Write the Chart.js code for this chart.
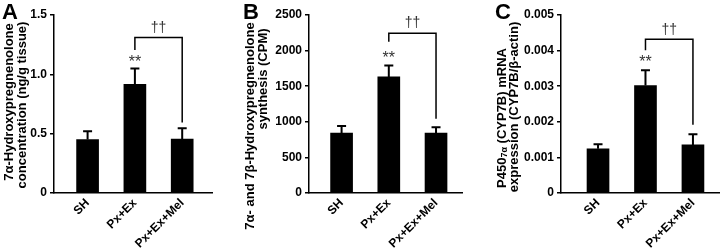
<!DOCTYPE html>
<html>
<head>
<meta charset="utf-8">
<script src="https://cdn.jsdelivr.net/npm/chart.js@4"></script>
<style>
  body { margin: 0; background: #fff; }
  #wrap { position: relative; width: 720px; height: 252px; overflow: hidden; }
  canvas { position: absolute; top: 0; }
  .letter { position: absolute; top: 0; font: bold 22px "Liberation Sans", Arial, sans-serif; line-height: 24px; }
</style>
</head>
<body>
<div id="wrap">
  <canvas id="chartA" width="240" height="252" style="left:0"></canvas>
  <canvas id="chartB" width="240" height="252" style="left:240px"></canvas>
  <canvas id="chartC" width="240" height="252" style="left:480px"></canvas>
  <div class="letter" style="left:2px">A</div>
  <div class="letter" style="left:243px">B</div>
  <div class="letter" style="left:495px">C</div>
</div>
<script>
// groups on the x axis
const groups = ['SH', 'Px+Ex', 'Px+Ex+Mel'];

// A: 7a-hydroxypregnenolone concentration
const meansA = [0.45, 0.915, 0.455];
const semA = [0.07, 0.135, 0.09];
// B: 7a- and 7b-hydroxypregnenolone synthesis
const meansB = [840, 1630, 840];
const semB = [100, 160, 82];
// C: P450 7a mRNA expression
const meansC = [0.00124, 0.00302, 0.00135];
const semC = [0.00013, 0.00043, 0.0003];

// significance marks: [bracket top, left leg end, right leg end, ** y, dagger y]
const sigA = [1.31, 1.205, 0.595, 1.12, 1.39];
const sigB = [2242, 2124, 1043, 1936, 2383];
const sigC = [0.00432, 0.00401, 0.00192, 0.00375, 0.00458];

// y axis titles, each line is a list of [text, subscript?] runs
const titleA = [[['7\u03b1-Hydroxypregnenolone']], [['concentration (ng/g tissue)']]];
const titleB = [[['7\u03b1- and 7\u03b2-Hydroxypregnenolone']], [['synthesis (CPM)']]];
const titleC = [[['P450'], ['7\u03b1', true], [' (CYP7B) mRNA']], [['expression (CYP7B/\u03b2-actin)']]];

const FAMILY = '"Liberation Sans", Arial, sans-serif';
Chart.defaults.font.family = FAMILY;
Chart.defaults.font.weight = 'bold';
Chart.defaults.font.size = 12;
Chart.defaults.color = '#000';

const errorBars = {
    id: 'errorBars',
    afterDatasetsDraw(chart, args, opts) {
        const ctx = chart.ctx;
        const x = chart.scales.x, y = chart.scales.y;
        ctx.save();
        ctx.strokeStyle = '#000';
        ctx.lineWidth = 2;
        opts.means.forEach((m, i) => {
            const px = x.getPixelForValue(i + 1);
            const top = y.getPixelForValue(m + opts.sem[i]);
            ctx.beginPath();
            ctx.moveTo(px, y.getPixelForValue(m));
            ctx.lineTo(px, top);
            ctx.moveTo(px - 4.5, top);
            ctx.lineTo(px + 4.5, top);
            ctx.stroke();
        });
        // bracket between Px+Ex and Px+Ex+Mel
        const s = opts.sig;
        const x1 = x.getPixelForValue(2), x2 = x.getPixelForValue(3);
        ctx.lineWidth = 1.5;
        ctx.beginPath();
        ctx.moveTo(x1, y.getPixelForValue(s[1]));
        ctx.lineTo(x1, y.getPixelForValue(s[0]));
        ctx.lineTo(x2, y.getPixelForValue(s[0]));
        ctx.lineTo(x2, y.getPixelForValue(s[2]));
        ctx.stroke();
        ctx.fillStyle = '#333';
        ctx.font = '16px ' + FAMILY;
        ctx.textAlign = 'center';
        ctx.textBaseline = 'middle';
        ctx.fillText('**', x1, y.getPixelForValue(s[3]) + 3);
        ctx.font = '14px ' + FAMILY;
        ctx.fillText('\u2020\u2020', (x1 + x2) / 2, y.getPixelForValue(s[4]));
        ctx.restore();
    }
};

// rotated two-line y title, line centres given in canvas pixels
const yTitle = {
    id: 'yTitle',
    afterDraw(chart, args, opts) {
        const ctx = chart.ctx;
        ctx.save();
        ctx.fillStyle = '#000';
        ctx.textBaseline = 'middle';
        ctx.textAlign = 'left';
        opts.lines.forEach((runs, li) => {
            const fonts = runs.map(r => r[1] ? 'bold 9px ' + FAMILY : 'bold 13px ' + FAMILY);
            let total = 0;
            const widths = runs.map((r, k) => { ctx.font = fonts[k]; const w = ctx.measureText(r[0]).width; total += w; return w; });
            ctx.save();
            ctx.translate(opts.x[li], opts.y[li]);
            ctx.rotate(-Math.PI / 2);
            let cx = -total / 2;
            runs.forEach((r, k) => {
                ctx.font = fonts[k];
                ctx.fillText(r[0], cx, r[1] ? 3 : 0);
                cx += widths[k];
            });
            ctx.restore();
        });
        ctx.restore();
    }
};

function makeChart(id, means, sem, sig, cfg) {
    new Chart(document.getElementById(id), {
        type: 'bar',
        plugins: [errorBars, yTitle],
        data: {
            datasets: [{
                data: means.map((v, i) => ({ x: i + 1, y: v })),
                backgroundColor: '#000',
                barThickness: 22
            }]
        },
        options: {
            responsive: false,
            animation: false,
            layout: { padding: { top: 15, right: cfg.padRight, left: 0, bottom: 0 } },
            plugins: {
                legend: { display: false },
                tooltip: { enabled: false },
                errorBars: { means: means, sem: sem, sig: sig },
                yTitle: { lines: cfg.title, x: cfg.titleX, y: cfg.titleY }
            },
            scales: {
                x: {
                    type: 'linear',
                    offset: false,
                    min: cfg.xMin,
                    max: cfg.xMax,
                    afterBuildTicks(scale) {
                        scale.ticks = groups.map((g, i) => ({ value: i + 1 }));
                    },
                    afterFit(scale) { scale.height = 59; },
                    grid: { display: false, drawTicks: true, tickLength: 2 },
                    border: { display: true, color: '#000', width: 1.5 },
                    ticks: {
                        autoSkip: false,
                        maxRotation: 45,
                        minRotation: 45,
                        padding: 1,
                        font: { size: 12, weight: 'bold' },
                        callback(v) { return groups[v - 1]; }
                    }
                },
                y: {
                    min: 0,
                    max: cfg.yMax,
                    afterFit(scale) { scale.width = cfg.yWidth; },
                    grid: { drawOnChartArea: false, drawTicks: true, tickLength: 4, color: '#000', lineWidth: 1.5 },
                    border: { display: true, color: '#000', width: 1.5 },
                    ticks: {
                        stepSize: cfg.step,
                        padding: 3,
                        font: { size: 12, weight: 'bold' },
                        callback(v) { return v === 0 ? '0' : v.toFixed(cfg.digits); }
                    }
                }
            }
        }
    });
}

makeChart('chartA', meansA, semA, sigA, {
    padRight: 28, yWidth: 54, xMin: 0.29, xMax: 3.63, yMax: 1.5, step: 0.5, digits: 1,
    title: titleA, titleX: [9, 22], titleY: [102, 105]
});
makeChart('chartB', meansB, semB, sigB, {
    padRight: 18, yWidth: 69, xMin: 0.31, xMax: 3.55, yMax: 2500, step: 500, digits: 0,
    title: titleB, titleX: [10, 23], titleY: [126, 79]
});
makeChart('chartC', meansC, semC, sigC, {
    padRight: 0, yWidth: 81, xMin: 0.22, xMax: 3.57, yMax: 0.005, step: 0.001, digits: 3,
    title: titleC, titleX: [22, 34], titleY: [118, 107]
});
</script>
</body>
</html>
